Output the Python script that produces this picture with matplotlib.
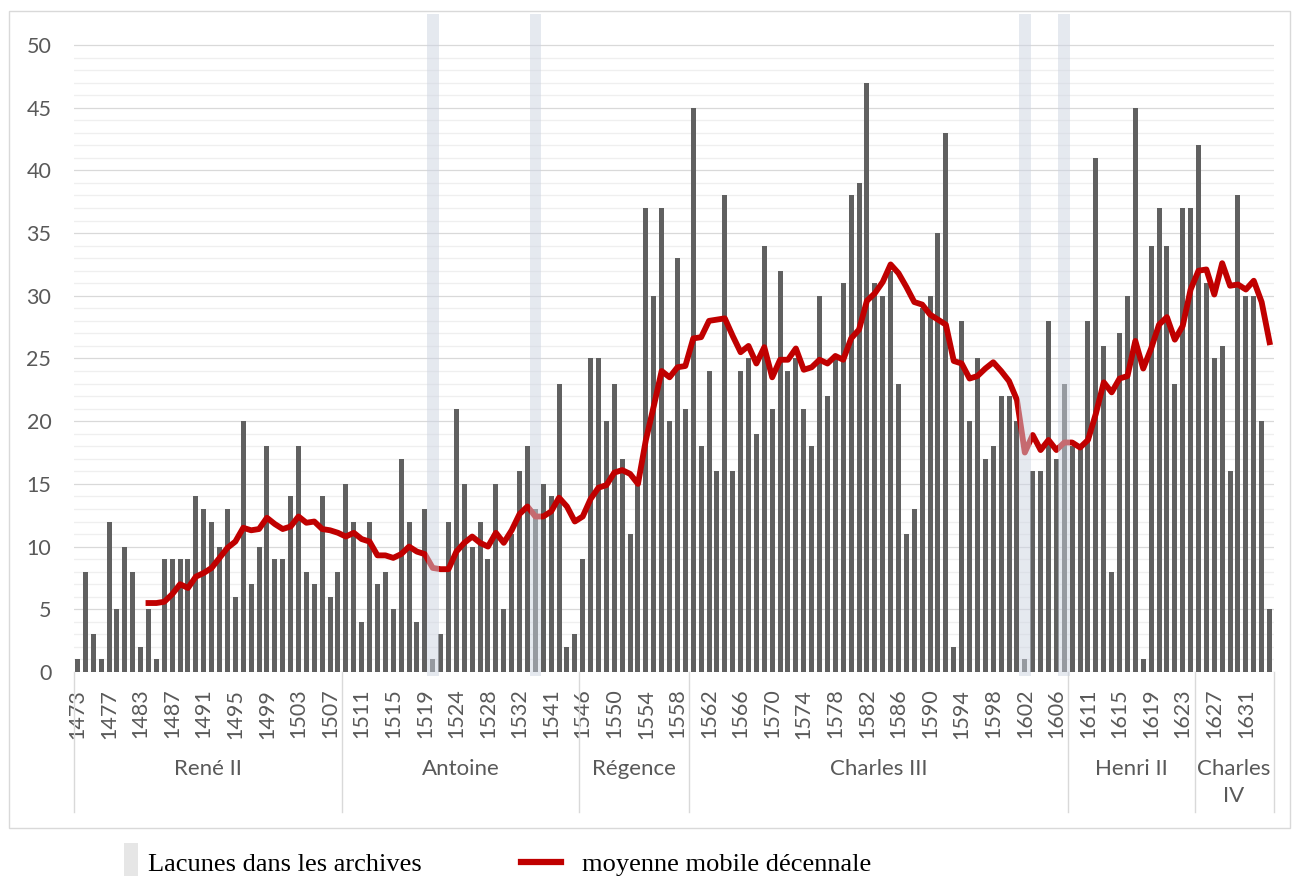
import numpy as np
import matplotlib.pyplot as plt
from matplotlib.patches import Rectangle
from matplotlib.lines import Line2D

plt.rcParams['font.family'] = ['Lato', 'DejaVu Sans']

# ------ data --------
years = (list(range(1473, 1481)) + list(range(1483, 1511)) + list(range(1511, 1521))
         + [1522, 1523] + list(range(1524, 1534)) + [1535, 1540] + list(range(1541, 1545))
         + list(range(1546, 1609)) + [1610] + list(range(1611, 1635)))

counts = [1, 8, 3, 1, 12, 5, 10, 8, 2, 5,
          1, 9, 9, 9, 9, 14, 13, 12, 10, 13,
          6, 20, 7, 10, 18, 9, 9, 14, 18, 8,
          7, 14, 6, 8, 15, 12, 4, 12, 7, 8,
          5, 17, 12, 4, 13, 1, 3, 12, 21, 15,
          10, 12, 9, 15, 5, 11, 16, 18, 13, 15,
          14, 23, 2, 3, 9, 25, 25, 20, 23, 17,
          11, 15, 37, 30, 37, 20, 33, 21, 45, 18,
          24, 16, 38, 16, 24, 25, 19, 34, 21, 32,
          24, 25, 21, 18, 30, 22, 25, 31, 38, 39,
          47, 31, 30, 32, 23, 11, 13, 29, 30, 35,
          43, 2, 28, 20, 25, 17, 18, 22, 22, 20,
          1, 16, 16, 28, 17, 23, 18, 18, 28, 41,
          26, 8, 27, 30, 45, 1, 34, 37, 34, 23,
          37, 37, 42, 31, 25, 26, 16, 38, 30, 30,
          20, 5]

# moyenne mobile décennale, from the 10th year on
moving_avg = [5.5, 5.5, 5.6, 6.2, 7.0, 6.7, 7.6, 7.9, 8.3, 9.1,
              9.9, 10.4, 11.5, 11.3, 11.4, 12.3, 11.8, 11.4, 11.6, 12.4,
              11.9, 12.0, 11.4, 11.3, 11.1, 10.8, 11.1, 10.6, 10.4, 9.3,
              9.3, 9.1, 9.4, 10.0, 9.6, 9.4, 8.3, 8.2, 8.2, 9.6,
              10.3, 10.8, 10.3, 10.0, 11.1, 10.3, 11.3, 12.6, 13.2, 12.4,
              12.4, 12.8, 13.9, 13.2, 12.0, 12.4, 13.8, 14.7, 14.9, 15.9,
              16.1, 15.8, 15.0, 18.5, 21.2, 24.0, 23.5, 24.3, 24.4, 26.6,
              26.7, 28.0, 28.1, 28.2, 26.8, 25.5, 26.0, 24.6, 25.9, 23.5,
              24.9, 24.9, 25.8, 24.1, 24.3, 24.9, 24.6, 25.2, 24.9, 26.6,
              27.3, 29.6, 30.2, 31.1, 32.5, 31.8, 30.7, 29.5, 29.3, 28.5,
              28.1, 27.7, 24.8, 24.6, 23.4, 23.6, 24.2, 24.7, 24.0, 23.2,
              21.7, 17.5, 18.9, 17.7, 18.5, 17.7, 18.3, 18.3, 17.9, 18.5,
              20.6, 23.1, 22.3, 23.4, 23.6, 26.4, 24.2, 25.8, 27.7, 28.3,
              26.5, 27.6, 30.5, 32.0, 32.1, 30.1, 32.6, 30.8, 30.9, 30.5,
              31.2, 29.5, 26.3]
ma_start = 9

reigns = ['René II', 'Antoine', 'Régence', 'Charles III', 'Henri II', 'Charles\nIV']
reign_start = [1473, 1509, 1546, 1560, 1608, 1625]

lacunes = [1520, 1535, 1602, 1607]

# ------ figure --------
W, H = 1295, 876
fig = plt.figure(figsize=(W / 100, H / 100), dpi=100)
ax = fig.add_axes([73.5 / W, 1 - 672 / H, 1200 / W, 658 / H])

x = np.arange(len(years))
ax.bar(x, counts, width=0.63, color='#606060', zorder=2)
ax.plot(np.arange(ma_start, ma_start + len(moving_avg)), moving_avg, color='#C00000',
        lw=4.2, zorder=3, solid_joinstyle='round')

for yr in lacunes:
    i = years.index(yr)
    ax.axvspan(i - 0.74, i + 0.74, ymin=-0.006, ymax=1, facecolor='#CDD4E1', alpha=0.5,
               lw=0, zorder=4, clip_on=False)

ax.set_xlim(-0.5, len(years) - 0.5)
ax.set_ylim(0, 52.47)
ax.set_yticks(range(0, 51, 5))
ax.set_yticks([v for v in range(51) if v % 5], minor=True)
ax.grid(axis='y', which='major', color='#D9D9D9', lw=0.9, zorder=0)
ax.grid(axis='y', which='minor', color='#EFEFEF', lw=0.9, zorder=0)
ax.set_axisbelow(True)
for s in ax.spines.values():
    s.set_visible(False)

ax.tick_params(axis='y', which='both', length=0, pad=16, labelsize=15.5, labelcolor='#595959')
ax.set_xticks(x[::4])
ax.set_xticklabels([str(y) for y in years[::4]], rotation=90, fontsize=15.5, color='#595959')
ax.tick_params(axis='x', length=0, pad=12)

# multi-level category axis
tr = ax.get_xaxis_transform()
starts = [years.index(y) for y in reign_start]
bounds = starts + [len(years)]
for b in bounds:
    ax.plot([b - 0.5, b - 0.5], [0, -140 / 658], transform=tr, color='#D9D9D9', lw=1,
            clip_on=False)
for name, a, b in zip(reigns, bounds[:-1], bounds[1:]):
    ax.text((a + b - 1) / 2, -87 / 658, name, transform=tr, ha='center', va='top',
            fontsize=16, color='#595959', linespacing=1.45)

# chart frame
fig.add_artist(Rectangle((9 / W, 1 - 828 / H), 1281 / W, 817 / H, transform=fig.transFigure,
                         fill=False, edgecolor='#D9D9D9', lw=1))

# legend below the frame
fig.add_artist(Rectangle((124 / W, 0), 14 / W, 33 / H, transform=fig.transFigure,
                         facecolor='#E6E6E6', edgecolor='none'))
fig.text(148 / W, 1 - 871 / H, 'Lacunes dans les archives', family='Liberation Serif',
         fontsize=19, va='baseline')
fig.add_artist(Line2D([521 / W, 561 / W], [1 - 862 / H] * 2, transform=fig.transFigure,
                      color='#C00000', lw=4.5))
fig.text(582 / W, 1 - 871 / H, 'moyenne mobile décennale', family='Liberation Serif',
         fontsize=19, va='baseline')

fig.savefig('out.png', dpi=100)
